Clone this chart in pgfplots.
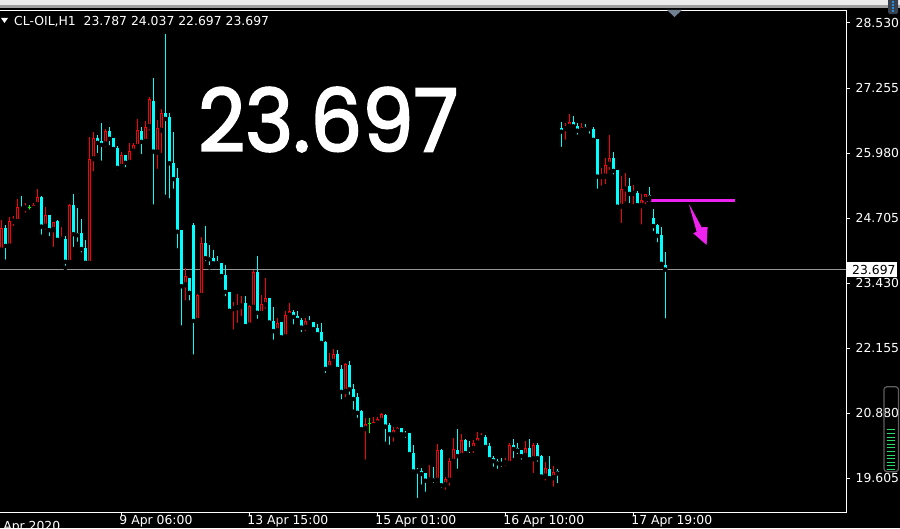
\documentclass[border=0pt]{standalone}
\usepackage{graphicx}
\usepackage{pgfplots}
\usepackage{pgfplotstable}
\pgfplotsset{compat=1.18}
\usepackage{fontspec}
\setmainfont{DejaVu Sans}
\newfontfamily\bigfont{Poppins}[FakeBold=2.5]

\definecolor{upred}{RGB}{255,0,0}
\definecolor{downcyan}{RGB}{0,255,255}
\definecolor{dojigreen}{RGB}{0,255,0}
\definecolor{markmag}{RGB}{238,34,238}
\definecolor{bidline}{RGB}{150,150,150}
\definecolor{stripgray}{RGB}{236,236,236}
\definecolor{stripedge}{RGB}{160,160,160}
\definecolor{tabgray}{RGB}{112,128,144}
\definecolor{scalegreen}{RGB}{40,220,100}
\definecolor{scaleframe}{RGB}{95,95,95}
\definecolor{widgetbg}{RGB}{55,65,78}
\definecolor{widgetblue}{RGB}{40,140,220}

% CL-OIL H1 bars, i = bar number from the left edge of the window
\pgfplotstableread{
i o h l c
0 24.07 24.67 24.00 24.51
1 24.52 24.57 23.85 24.16
2 24.15 24.73 24.14 24.65
3 24.63 24.75 24.51 24.65
4 24.63 25.08 24.59 24.92
5 24.93 25.14 24.82 24.89
6 24.89 25.00 24.77 24.92
7 24.92 24.96 24.83 24.92
8 24.89 25.01 24.85 24.96
9 24.96 25.28 24.94 25.12
10 25.12 25.14 24.34 24.54
11 24.54 24.93 24.44 24.77
12 24.77 24.77 24.31 24.47
13 24.47 24.63 24.10 24.62
14 24.65 24.67 24.20 24.28
15 24.28 24.54 24.26 24.32
16 24.30 24.35 23.73 23.85
17 23.83 24.98 23.83 24.96
18 24.96 25.18 24.10 24.39
19 24.41 24.91 24.20 24.37
20 24.41 24.69 23.99 24.10
21 24.12 24.28 23.75 23.83
22 23.81 26.30 23.81 25.86
23 25.86 26.39 25.58 26.27
24 26.27 26.33 25.94 26.18
25 26.21 26.56 25.79 26.14
26 26.15 26.45 26.05 26.41
27 26.41 26.50 26.09 26.26
28 26.28 26.28 26.04 26.06
29 26.08 26.12 25.60 25.69
30 25.71 26.01 25.66 25.94
31 25.94 25.94 25.66 25.79
32 25.79 26.17 25.71 26.02
33 26.01 26.18 25.92 26.14
34 26.10 26.65 26.10 26.43
35 26.41 26.50 25.92 26.20
36 26.20 26.61 26.12 26.49
37 26.49 27.08 26.38 27.03
38 27.01 27.45 24.93 26.01
39 25.99 26.63 25.63 26.47
40 26.42 26.84 25.94 26.76
41 26.76 28.31 25.12 26.65
42 26.68 26.77 25.05 25.78
43 25.78 26.40 25.24 25.47
44 25.49 25.68 24.07 24.44
45 24.47 24.47 22.56 23.37
46 23.39 23.72 23.05 23.57
47 23.54 23.54 23.05 23.24
48 24.57 24.61 21.99 22.69
49 22.69 23.21 22.66 23.20
50 23.18 24.34 23.17 24.21
51 24.21 24.55 23.82 23.92
52 23.94 24.18 23.74 23.90
53 23.92 24.08 23.77 23.82
54 23.86 23.96 23.82 23.82
55 23.82 23.82 23.48 23.57
56 23.59 23.79 23.13 23.26
57 23.26 23.26 22.83 22.89
58 22.92 23.07 22.48 22.95
59 22.94 23.21 22.61 22.97
60 22.97 23.18 22.74 23.02
61 23.04 23.17 22.53 22.59
62 22.60 23.00 22.59 22.98
63 22.95 23.69 22.95 23.65
64 23.64 23.96 22.69 22.85
65 22.83 23.20 22.83 23.02
66 23.00 23.54 22.89 23.13
67 23.13 23.13 22.64 22.66
68 22.69 22.97 22.28 22.49
69 22.49 22.74 22.48 22.64
70 22.66 22.66 22.33 22.37
71 22.37 22.88 22.37 22.81
72 22.79 23.05 22.77 22.88
73 22.87 22.90 22.58 22.77
74 22.79 22.88 22.66 22.71
75 22.71 22.74 22.43 22.56
76 22.56 22.74 22.45 22.69
77 22.69 22.79 22.59 22.66
78 22.67 22.67 22.50 22.53
79 22.55 22.63 22.39 22.43
80 22.47 22.64 22.17 22.26
81 22.28 22.30 21.63 21.75
82 21.76 22.07 21.74 21.90
83 21.89 22.14 21.83 22.04
84 22.04 22.12 21.69 21.75
85 21.75 21.83 21.11 21.30
86 21.30 21.86 21.15 21.85
87 21.83 21.90 21.20 21.35
88 21.35 21.45 20.91 21.16
89 21.20 21.27 20.75 20.89
90 20.92 20.94 20.50 20.57
91 20.57 20.78 19.93 20.67
92 20.67 20.79 20.45 20.67
93 20.63 20.80 20.61 20.71
94 20.68 20.81 20.65 20.76
95 20.73 20.88 20.71 20.86
96 20.85 20.87 20.28 20.62
97 20.65 20.68 20.22 20.47
98 20.45 20.62 20.28 20.55
99 20.52 20.62 20.50 20.60
100 20.59 20.59 20.43 20.47
101 20.47 20.53 20.36 20.46
102 20.49 20.50 20.01 20.08
103 20.10 20.26 19.69 19.74
104 19.77 19.80 19.18 19.74
105 19.75 19.80 19.44 19.69
106 19.70 19.70 19.30 19.56
107 19.56 19.87 19.49 19.61
108 19.62 19.82 19.47 19.57
109 19.56 20.28 19.47 20.16
110 20.16 20.18 19.38 19.47
111 19.47 19.64 19.34 19.59
112 19.56 20.00 19.42 19.94
113 19.93 20.39 19.90 20.18
114 20.16 20.57 19.75 20.04
115 20.04 20.47 20.00 20.36
116 20.36 20.37 20.06 20.10
117 20.19 20.34 20.06 20.17
118 20.18 20.36 20.06 20.30
119 20.29 20.52 20.28 20.39
120 20.39 20.49 20.36 20.43
121 20.42 20.45 20.19 20.22
122 20.24 20.29 19.96 19.98
123 20.00 20.04 19.79 19.94
124 19.95 19.98 19.75 19.90
125 19.90 20.00 19.79 19.89
126 19.90 20.00 19.80 19.93
127 19.89 20.29 19.87 20.26
128 20.26 20.37 19.96 20.18
129 20.19 20.29 20.04 20.15
130 20.17 20.17 19.93 20.04
131 20.04 20.34 20.00 20.19
132 20.19 20.37 19.96 19.98
133 19.98 20.29 19.67 20.26
134 20.26 20.29 19.89 20.00
135 20.04 20.06 19.56 19.64
136 19.64 19.93 19.52 19.80
137 19.78 20.04 19.54 19.61
138 19.61 19.85 19.40 19.73
139 19.75 19.78 19.47 19.70
140 26.47 26.58 26.06 26.40
141 26.45 26.56 26.20 26.49
142 26.49 26.75 26.42 26.59
143 26.58 26.71 26.50 26.50
144 26.51 26.56 26.30 26.42
145 26.42 26.56 26.40 26.49
146 26.49 26.55 26.40 26.45
147 26.46 26.48 26.32 26.45
148 26.45 26.49 26.20 26.24
149 26.26 26.26 25.24 25.52
150 25.51 25.68 25.30 25.53
151 25.52 25.88 25.33 25.75
152 25.75 26.33 25.61 25.88
153 25.88 26.01 25.52 25.63
154 25.65 25.65 24.85 24.93
155 24.93 25.53 24.57 25.27
156 25.27 25.58 24.99 25.33
157 25.33 25.50 24.96 25.18
158 25.18 25.35 24.94 25.20
159 25.19 25.24 24.93 24.96
160 24.94 25.18 24.54 25.06
161 25.06 25.17 24.94 25.17
162 25.16 25.31 25.06 25.11
163 24.71 24.88 24.41 24.55
164 24.57 24.59 24.19 24.36
165 24.37 24.54 23.79 23.81
166 23.787 24.037 22.697 23.697
}\candles

% one screen pixel in price units
\newcommand{\px}{0.0196}

\begin{document}
\begin{tikzpicture}[x=1pt,y=1pt]
\useasboundingbox (0,0) rectangle (900,528);
\fill[black] (0,0) rectangle (900,528);
\fill[stripgray] (0,522) rectangle (900,528);
\fill[stripedge] (0,520) rectangle (900,522.5);

\begin{axis}[
    at={(0pt,16pt)}, anchor=south west,
    scale only axis, width=846pt, height=502pt,
    xmin=-0.325, xmax=211.2, ymin=18.945, ymax=28.784,
    clip=false,
    axis line style={draw=none},
    tick align=outside,
    major tick length=3.5pt,
    tick style={white, line width=1pt},
    xtick pos=left, ytick pos=right,
    xticklabel pos=left, yticklabel pos=right,
    xtick={30,62,94,126,158},
    xticklabels={9 Apr 06:00, 13 Apr 15:00, 15 Apr 01:00, 16 Apr 10:00, 17 Apr 19:00},
    ytick={19.605,20.880,22.155,23.430,24.705,25.980,27.255,28.530},
    yticklabels={19.605,20.880,22.155,23.430,24.705,25.980,27.255,28.530},
    ticklabel style={font=\fontsize{12.4}{14}\selectfont, text=white, inner sep=0pt},
    xticklabel style={anchor=north west, xshift=-2pt},
    yticklabel style={anchor=west, xshift=6pt},
]
% bid line
\addplot[bidline, line width=1pt] coordinates {(-0.325,23.697) (211.2,23.697)};

% wicks
\addplot[only marks, mark=none, error bars/.cd, y dir=plus, y explicit, error mark=none,
    error bar style={downcyan, line width=1pt}]
    table[x=i, y expr={\thisrow{c}<\thisrow{o} ? \thisrow{l} : nan},
          y error expr={\thisrow{h}-\thisrow{l}}] {\candles};
\addplot[only marks, mark=none, error bars/.cd, y dir=plus, y explicit, error mark=none,
    error bar style={upred, line width=1pt}]
    table[x=i, y expr={\thisrow{c}>\thisrow{o} ? \thisrow{l} : nan},
          y error expr={\thisrow{h}-\thisrow{l}}] {\candles};
\addplot[only marks, mark=none, error bars/.cd, y dir=plus, y explicit, error mark=none,
    error bar style={dojigreen, line width=1pt}]
    table[x=i, y expr={\thisrow{c}==\thisrow{o} ? \thisrow{l} : nan},
          y error expr={\thisrow{h}-\thisrow{l}}] {\candles};

% bodies: down bars filled cyan
\addplot[only marks, mark=none, error bars/.cd, y dir=plus, y explicit, error mark=none,
    error bar style={downcyan, line width=3pt}]
    table[x=i, y expr={\thisrow{c}<\thisrow{o} ? \thisrow{c} : nan},
          y error expr={max(\thisrow{o}-\thisrow{c},\px)}] {\candles};
% up bars: red outline, black inside
\addplot[only marks, mark=none, error bars/.cd, y dir=plus, y explicit, error mark=none,
    error bar style={upred, line width=3pt}]
    table[x=i, y expr={\thisrow{c}>\thisrow{o} ? \thisrow{o} : nan},
          y error expr={max(\thisrow{c}-\thisrow{o},\px)}] {\candles};
\addplot[only marks, mark=none, error bars/.cd, y dir=plus, y explicit, error mark=none,
    error bar style={black, line width=1pt}]
    table[x=i, y expr={\thisrow{c}>\thisrow{o} ? \thisrow{o}+\px : nan},
          y error expr={max(\thisrow{c}-\thisrow{o}-2*\px,0)}] {\candles};
% doji
\addplot[only marks, mark=-, mark size=1.5pt, dojigreen, mark options={line width=1pt}]
    table[x=i, y expr={\thisrow{c}==\thisrow{o} ? \thisrow{o} : nan}] {\candles};

% drawn level and arrow
\addplot[markmag, line width=3pt] coordinates {(160.5,25.06) (183.4,25.06)};
\fill[markmag] (axis cs:171.93,24.976) -- (axis cs:172.25,24.942) -- (axis cs:175.1,24.525)
    -- (axis cs:176.6,24.531) -- (axis cs:176.35,24.178) -- (axis cs:173.0,24.407)
    -- (axis cs:173.85,24.439) -- cycle;

\draw[white, line width=1pt] (rel axis cs:0,1) -- (rel axis cs:1,1) -- (rel axis cs:1,0) -- (rel axis cs:0,0);
\coordinate (bid) at (axis cs:211.2,23.697);
\coordinate (firsttick) at (axis cs:-2,18.945);
\end{axis}

\node[fill=white, text=black, anchor=west, inner xsep=0pt, inner ysep=0pt, minimum height=14.3pt,
    font=\fontsize{12.4}{14}\selectfont] at (bid) {\hspace*{6pt}23.697\hspace*{1.5pt}};

\node[white, anchor=north west, inner sep=0pt, font=\fontsize{12.4}{14}\selectfont,
    xshift=-2pt, yshift=-8.7pt] at (firsttick) {8 Apr 2020};

\fill[white] (1,510) -- (8,510) -- (4.5,505) -- cycle;
\node[white, anchor=base west, inner sep=0pt, font=\fontsize{12.4}{14}\selectfont]
    at (14,502) {CL-OIL,H1\ \ 23.787 24.037 22.697 23.697};

\node[white, anchor=south west, inner sep=0pt] at (198,376) {\resizebox{260pt}{64pt}{\bigfont 23.697}};

\fill[tabgray] (667,518) -- (682,518) -- (674.5,511) -- cycle;

\fill[widgetbg, rounded corners=1.5pt] (888,514) rectangle (898,530);
\foreach \yy in {516,519,522,525} \fill[widgetblue] (892,\yy) rectangle (894,\yy+1.6);

\draw[scaleframe, line width=1.2pt, rounded corners=3pt] (884,56.3) rectangle (898.5,141.3);
\foreach \k in {0,...,11} \draw[scalegreen, line width=1pt] (886.5,58.5+3.6*\k) -- (894.5,58.5+3.6*\k);
\end{tikzpicture}
\end{document}
